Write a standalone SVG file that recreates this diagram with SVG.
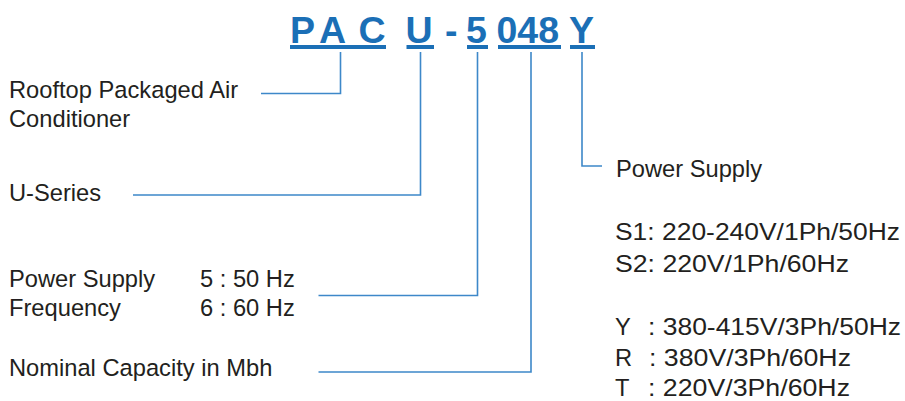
<svg xmlns="http://www.w3.org/2000/svg" width="905" height="401" viewBox="0 0 905 401">
<style>
.t{font-family:"Liberation Sans",Arial,sans-serif;font-size:23.7px;fill:#231f20}
.code{font-family:"Liberation Sans",Arial,sans-serif;font-size:37.5px;font-weight:bold;fill:#1b6fb6}
.ul{fill:#1b6fb6}
.c{fill:none;stroke:#3d88c9;stroke-width:1.6}
</style>
<rect width="905" height="401" fill="#ffffff"/>
<g id="code">
<text class="code" x="290" y="43">P</text>
<text class="code" x="319" y="43">A</text>
<text class="code" x="358.5" y="43">C</text>
<text class="code" x="405.5" y="43">U</text>
<text class="code" x="445" y="43">-</text>
<text class="code" x="466" y="43">5</text>
<text class="code" x="496.5" y="43">048</text>
<text class="code" x="569" y="43">Y</text>
<rect class="ul" x="290" y="45" width="96" height="4"/>
<rect class="ul" x="406.5" y="45" width="27.5" height="4"/>
<rect class="ul" x="467" y="45" width="21" height="4"/>
<rect class="ul" x="498" y="45" width="63" height="4"/>
<rect class="ul" x="570" y="45" width="25" height="4"/>
</g>
<g id="connectors">
<path class="c" d="M261,93.5H340.5V52"/>
<path class="c" d="M133,195H420.5V52"/>
<path class="c" d="M318.5,295.5H477.5V52"/>
<path class="c" d="M318.5,372H531V52"/>
<path class="c" d="M602,166H582V52"/>
</g>
<g id="rooftop">
<text class="t" x="9" y="98">Rooftop Packaged Air</text>
<text class="t" x="9" y="127">Conditioner</text>
</g>
<g id="useries">
<text class="t" x="9" y="201">U-Series</text>
</g>
<g id="frequency">
<text class="t" x="9" y="287">Power Supply</text>
<text class="t" x="9" y="316">Frequency</text>
<text class="t" x="200" y="287">5 : 50 Hz</text>
<text class="t" x="200" y="316">6 : 60 Hz</text>
</g>
<g id="capacity">
<text class="t" x="9" y="376">Nominal Capacity in Mbh</text>
</g>
<g id="powersupply">
<text class="t" x="616" y="177">Power Supply</text>
<text class="t" x="615" y="240" textLength="285" lengthAdjust="spacingAndGlyphs">S1: 220-240V/1Ph/50Hz</text>
<text class="t" x="615" y="272" textLength="234" lengthAdjust="spacingAndGlyphs">S2: 220V/1Ph/60Hz</text>
<text class="t" x="615" y="335">Y</text>
<text class="t" x="648" y="335" textLength="253" lengthAdjust="spacingAndGlyphs">: 380-415V/3Ph/50Hz</text>
<text class="t" x="615" y="366">R</text>
<text class="t" x="649" y="366" textLength="202" lengthAdjust="spacingAndGlyphs">: 380V/3Ph/60Hz</text>
<text class="t" x="615" y="396">T</text>
<text class="t" x="648" y="396" textLength="202" lengthAdjust="spacingAndGlyphs">: 220V/3Ph/60Hz</text>
</g>
</svg>
